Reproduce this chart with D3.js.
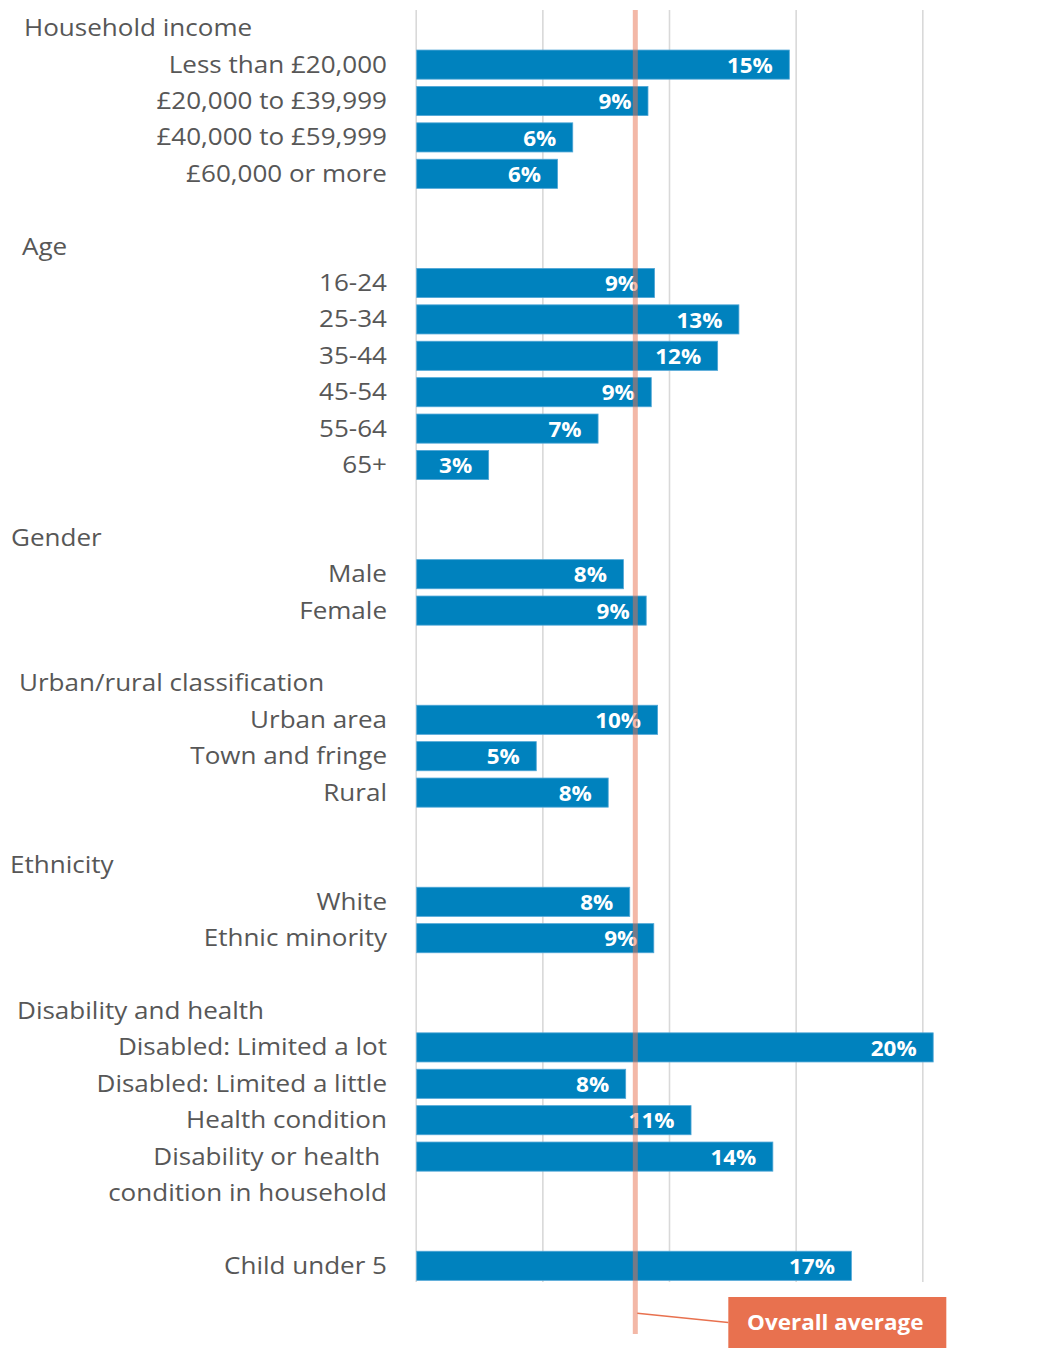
<!DOCTYPE html>
<html>
<head>
<meta charset="utf-8">
<script src="https://cdn.jsdelivr.net/npm/d3@7"></script>
<style>
  html, body { margin: 0; padding: 0; background: #ffffff; }
  svg { display: block; }
  text { font-family: "Open Sans", "Noto Sans", sans-serif; white-space: pre; }
</style>
</head>
<body>
<svg id="chart" width="1041" height="1348"></svg>
<script>
// Group headings (the last group has no heading of its own)
const groupHeaders = [
  "Household income",
  "Age",
  "Gender",
  "Urban/rural classification",
  "Ethnicity",
  "Disability and health",
  ""
];

// Number of categories in each group, in order
const groupSizes = [4, 6, 2, 3, 2, 4, 1];

// Category labels ("\n" marks a wrapped label)
const categories = [
  "Less than £20,000", "£20,000 to £39,999", "£40,000 to £59,999", "£60,000 or more",
  "16-24", "25-34", "35-44", "45-54", "55-64", "65+",
  "Male", "Female",
  "Urban area", "Town and fringe", "Rural",
  "White", "Ethnic minority",
  "Disabled: Limited a lot", "Disabled: Limited a little", "Health condition",
  "Disability or health \ncondition in household",
  "Child under 5"
];

// Share of respondents (%)
const values = [
  14.75, 9.17, 6.2, 5.6,
  9.43, 12.76, 11.92, 9.3, 7.2, 2.88,
  8.2, 9.1,
  9.55, 4.76, 7.6,
  8.45, 9.4,
  20.43, 8.29, 10.87, 14.1,
  17.2
];

// Overall average (%)
const overallAverage = 8.67;
const averageLabel = "Overall average";

// Gridline positions (%)
const gridTicks = [0, 5, 10, 15, 20];

// ---------------------------------------------------------------
const svg = d3.select("#chart");
const textColor = "#575757";
const barColor = "#0082BE";
const accent = "#E8714F";
const stretch = 1.085;

// Build the row layout: heading, items, spacer for each group
const rows = [];
let k = 0;
groupSizes.forEach((n, g) => {
  rows.push({ type: "header", label: groupHeaders[g], group: g });
  for (let j = 0; j < n; j++, k++) {
    rows.push({ type: "bar", label: categories[k], value: values[k] });
  }
  if (g < groupSizes.length - 1) rows.push({ type: "blank" });
});
rows.forEach((r, i) => r.index = i);

const plotTop = 10, plotBottom = 1284;
const x = d3.scaleLinear().domain([0, 20]).range([415.7, 922.3]);
const y = d3.scaleBand()
  .domain(rows.map(r => r.index))
  .range([plotTop, plotBottom])
  .paddingInner(0.2)
  .paddingOuter(0.1);
const mid = i => y(i) + y.bandwidth() / 2;

// Vertical gridlines
const grid = svg.append("g")
  .attr("transform", `translate(0,${plotTop})`)
  .call(d3.axisTop(x).tickValues(gridTicks).tickSize(-(1282 - plotTop)).tickFormat(""));
grid.select(".domain").remove();
grid.selectAll(".tick line").attr("stroke", "#D9D9D9").attr("stroke-width", 1.6);

// Bars
const barRows = rows.filter(r => r.type === "bar");
svg.append("g").selectAll("rect")
  .data(barRows)
  .join("rect")
  .attr("x", x(0) + 1)
  .attr("y", d => y(d.index))
  .attr("width", d => x(d.value) - x(0) - 1)
  .attr("height", y.bandwidth())
  .attr("fill", barColor)
  .attr("stroke", "#4FA6D6")
  .attr("stroke-width", 0.8);

// Value labels inside bar ends
svg.append("g").selectAll("text")
  .data(barRows)
  .join("text")
  .attr("transform", d => `translate(${x(d.value) - 16.5},${mid(d.index) + 8.2}) scale(1.07,1)`)
  .attr("text-anchor", "end")
  .attr("fill", "#ffffff")
  .attr("font-weight", 700)
  .attr("font-size", 21)
  .text(d => Math.round(d.value) + "%");

// Category labels (right aligned, possibly wrapped)
const catG = svg.append("g");
barRows.forEach(d => {
  d.label.split("\n").forEach((line, li) => {
    catG.append("text")
      .attr("transform", `translate(387,${mid(d.index) + li * y.step() + 8}) scale(${stretch},1)`)
      .attr("text-anchor", "end")
      .attr("fill", textColor)
      .attr("font-size", 24)
      .text(line);
  });
});

// Group headings
const headerIndent = [24, 22, 11, 19, 10, 17, 0];
svg.append("g").selectAll("text")
  .data(rows.filter(r => r.type === "header" && r.label))
  .join("text")
  .attr("transform", d => `translate(${headerIndent[d.group]},${mid(d.index) + 8}) scale(${stretch},1)`)
  .attr("fill", textColor)
  .attr("font-size", 24)
  .text(d => d.label);

// Overall average marker
const ax = x(overallAverage);
svg.append("line")
  .attr("x1", ax).attr("x2", ax)
  .attr("y1", plotTop).attr("y2", 1334)
  .attr("stroke", accent)
  .attr("stroke-opacity", 0.5)
  .attr("stroke-width", 5);

// Callout for the average line
const boxX = ax + 93, boxY = 1297, boxW = 218, boxH = 54;
svg.append("line")
  .attr("x1", ax + 2).attr("y1", 1313.3)
  .attr("x2", boxX).attr("y2", 1322.5)
  .attr("stroke", accent)
  .attr("stroke-width", 1.6);
svg.append("rect")
  .attr("x", boxX).attr("y", boxY)
  .attr("width", boxW).attr("height", boxH)
  .attr("fill", accent);
svg.append("text")
  .attr("transform", `translate(${boxX + boxW / 2 - 2},1329.5) scale(1.07,1)`)
  .attr("text-anchor", "middle")
  .attr("fill", "#ffffff")
  .attr("font-weight", 700)
  .attr("font-size", 21)
  .text(averageLabel);
</script>
</body>
</html>
